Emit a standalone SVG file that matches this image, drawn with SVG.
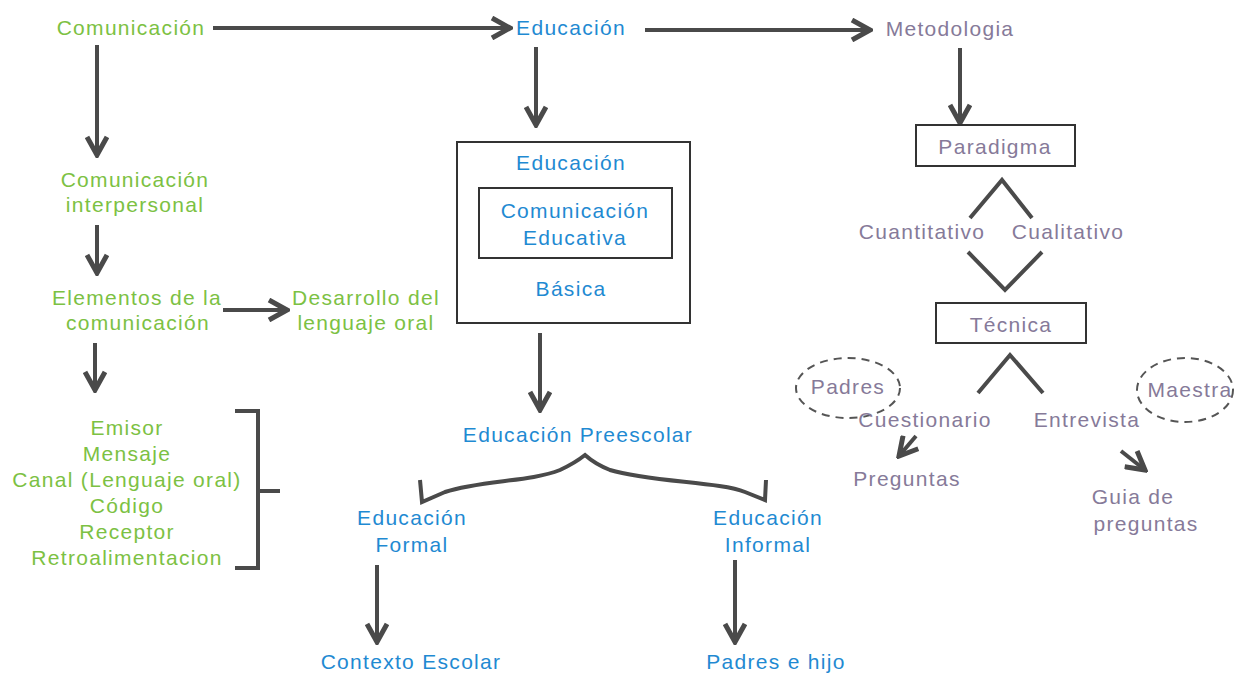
<svg xmlns="http://www.w3.org/2000/svg" width="1245" height="675" viewBox="0 0 1245 675">
<defs>
<marker id="arr" markerUnits="userSpaceOnUse" viewBox="0 0 24 24" markerWidth="24" markerHeight="24" refX="21" refY="12" orient="auto">
<path d="M3,2 L21,12 L3,22" fill="none" stroke="#4a4a4a" stroke-width="5"/>
</marker>
<style>
text{font-family:"Liberation Sans",Arial,sans-serif;font-size:21px;letter-spacing:1.3px;text-anchor:middle}
.g{fill:#7cc143}
.b{fill:#1f8ad2}
.p{fill:#867a99}
.c{fill:none;stroke:#4a4a4a;stroke-width:4}
.a{fill:none;stroke:#4a4a4a;stroke-width:4;marker-end:url(#arr)}
.box{fill:none;stroke:#333;stroke-width:2}
.dash{fill:none;stroke:#555;stroke-width:2;stroke-dasharray:8 6}
</style>
</defs>
<rect width="1245" height="675" fill="#fff"/>
<g id="connectors">
<line class="a" x1="213" y1="28" x2="510" y2="28"/>
<line class="a" x1="645" y1="30" x2="870" y2="30"/>
<line class="a" x1="97" y1="45" x2="97" y2="155"/>
<line class="a" x1="97" y1="225" x2="97" y2="273"/>
<line class="a" x1="223" y1="310" x2="287" y2="310"/>
<line class="a" x1="95" y1="343" x2="95" y2="390"/>
<line class="a" x1="536" y1="47" x2="536" y2="125"/>
<line class="a" x1="540" y1="333" x2="540" y2="410"/>
<line class="a" x1="377" y1="565" x2="377" y2="642"/>
<line class="a" x1="735" y1="560" x2="735" y2="642"/>
<line class="a" x1="960" y1="48" x2="960" y2="123"/>
<line class="a" x1="916" y1="436" x2="899" y2="456"/>
<line class="a" x1="1121" y1="451" x2="1145" y2="470"/>
<path class="c" d="M235,411 L258,411 L258,568 L235,568 M258,491 L280,491"/>
<path class="c" d="M420,480 L422,502 L445,492 C480,480 530,482 560,470 Q575,463 585,455 Q595,464 610,470 C650,482 720,482 745,492 L765,500 L766,480"/>
<path class="c" d="M970,218 L1002,180 L1032,218"/>
<path class="c" d="M968,252 L1005,290 L1042,252"/>
<path class="c" d="M978,393 L1010,355 L1043,393"/>
</g>
<g id="comunicacion"><text class="g" x="131" y="35">Comunicación</text></g>
<g id="educacion"><text class="b" x="571" y="35">Educación</text></g>
<g id="metodologia"><text class="p" x="950" y="36">Metodologia</text></g>
<g id="interpersonal"><text class="g" x="135" y="187">Comunicación</text><text class="g" x="135" y="212">interpersonal</text></g>
<g id="elementos"><text class="g" x="137" y="305">Elementos de la</text><text class="g" x="138" y="330">comunicación</text></g>
<g id="desarrollo"><text class="g" x="366" y="305">Desarrollo del</text><text class="g" x="366" y="330">lenguaje oral</text></g>
<g id="lista">
<text class="g" x="127" y="435">Emisor</text>
<text class="g" x="127" y="461">Mensaje</text>
<text class="g" x="127" y="487">Canal (Lenguaje oral)</text>
<text class="g" x="127" y="513">Código</text>
<text class="g" x="127" y="539">Receptor</text>
<text class="g" x="127" y="565">Retroalimentacion</text>
</g>
<g id="basica">
<rect class="box" x="457" y="142" width="233" height="181"/>
<text class="b" x="571" y="170">Educación</text>
<text class="b" x="571" y="296">Básica</text>
</g>
<g id="comeducativa">
<rect class="box" x="479" y="188" width="193" height="70"/>
<text class="b" x="575" y="218">Comunicación</text>
<text class="b" x="575" y="245">Educativa</text>
</g>
<g id="preescolar"><text class="b" x="578" y="442">Educación Preescolar</text></g>
<g id="formal"><text class="b" x="412" y="525">Educación</text><text class="b" x="412" y="552">Formal</text></g>
<g id="informal"><text class="b" x="768" y="525">Educación</text><text class="b" x="768" y="552">Informal</text></g>
<g id="contexto"><text class="b" x="411" y="669">Contexto Escolar</text></g>
<g id="padreshijo"><text class="b" x="776" y="669">Padres e hijo</text></g>
<g id="paradigma"><rect class="box" x="916" y="125" width="159" height="41"/><text class="p" x="995" y="154">Paradigma</text></g>
<g id="cuantitativo"><text class="p" x="922" y="239">Cuantitativo</text></g>
<g id="cualitativo"><text class="p" x="1068" y="239">Cualitativo</text></g>
<g id="tecnica"><rect class="box" x="936" y="303" width="150" height="40"/><text class="p" x="1011" y="332">Técnica</text></g>
<g id="padres"><ellipse class="dash" cx="848" cy="388" rx="52" ry="30"/><text class="p" x="848" y="394">Padres</text></g>
<g id="maestra"><ellipse class="dash" cx="1185" cy="390" rx="48" ry="32"/><text class="p" x="1190" y="397">Maestra</text></g>
<g id="cuestionario"><text class="p" x="925" y="427">Cuestionario</text></g>
<g id="entrevista"><text class="p" x="1087" y="427">Entrevista</text></g>
<g id="preguntas"><text class="p" x="907" y="486">Preguntas</text></g>
<g id="guia"><text class="p" x="1133" y="504">Guia de</text><text class="p" x="1146" y="531">preguntas</text></g>
</svg>
